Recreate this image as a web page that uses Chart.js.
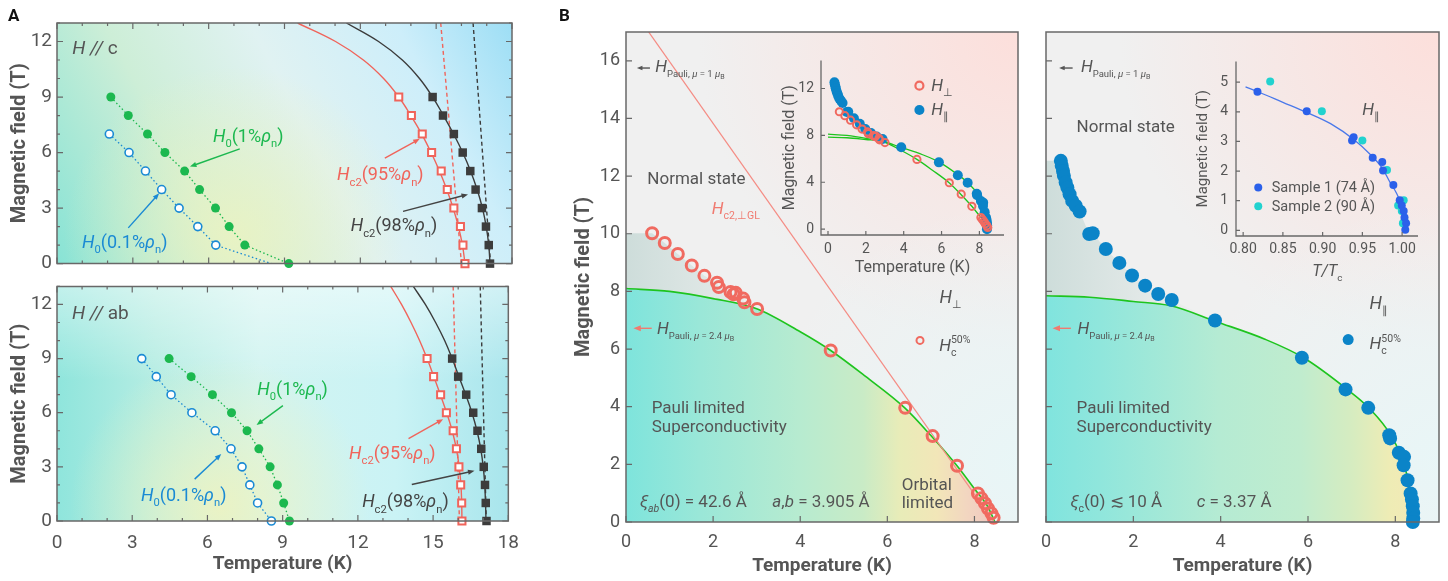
<!DOCTYPE html>
<html>
<head>
<meta charset="utf-8">
<script src="https://cdn.jsdelivr.net/npm/chart.js@4.4.1/dist/chart.umd.min.js"></script>
<style>
  body { margin: 0; background: #fff; }
  #page { position: relative; width: 1448px; height: 581px; overflow: hidden; }
  canvas { position: absolute; }
  .tag { position: absolute; font: bold 17px Roboto, sans-serif; color: #111; }
</style>
</head>
<body>
<div id="page">
  <canvas id="aTop" width="530" height="280" style="left:0;top:0"></canvas>
  <canvas id="aBot" width="530" height="311" style="left:0;top:270px"></canvas>
  <canvas id="bLeft" width="480" height="581" style="left:560px;top:0"></canvas>
  <canvas id="bRight" width="418" height="581" style="left:1030px;top:0"></canvas>
  <canvas id="inPerp" width="240" height="240" style="left:780px;top:45px"></canvas>
  <canvas id="inRatio" width="240" height="245" style="left:1193px;top:45px"></canvas>
  <div class="tag" style="left:8px;top:5px">A</div>
  <div class="tag" style="left:559px;top:5px">B</div>
</div>
<script>
// ---- panel A, H || c ----
const cGreenT = [2.13, 2.82, 3.58, 4.27, 5.05, 5.64, 6.27, 6.81, 7.43, 9.17];
const cGreenH = [9, 8, 7, 6, 5, 4, 3, 2, 1, 0];
const cBlueT = [2.07, 2.85, 3.5, 4.14, 4.83, 5.57, 6.28];
const cBlueH = [7, 6, 5, 4, 3, 2, 1];
const cBlueTrailT = [2.07, 2.85, 3.5, 4.14, 4.83, 5.57, 6.28, 8.48];
const cBlueTrailH = [7, 6, 5, 4, 3, 2, 1, 0];
const cRedT = [13.52, 14.02, 14.45, 14.82, 15.2, 15.44, 15.7, 15.96, 16.06, 16.14];
const cDarkT = [14.86, 15.27, 15.7, 16.05, 16.35, 16.56, 16.81, 16.97, 17.08, 17.13];
const cSquareH = [9, 8, 7, 6, 5, 4, 3, 2, 1, 0];
const fitH = [13, 12, 11, 10, 9, 8, 7, 6, 5, 4, 3, 2, 1, 0];
const cRedFitT = [9.52, 11.02, 12.12, 12.92, 13.52, 14.0, 14.43, 14.8, 15.13, 15.42, 15.67, 15.88, 16.04, 16.14];
const cDarkFitT = [11.45, 12.72, 13.66, 14.34, 14.86, 15.29, 15.69, 16.05, 16.36, 16.62, 16.83, 16.98, 17.08, 17.13];
const cRedLinT = [15.18, 16.0];
const cDarkLinT = [16.46, 17.15];
const linH = [13, 0];

// ---- panel A, H || ab ----
const abBlueT = [3.38, 3.96, 4.55, 5.38, 6.31, 6.94, 7.38, 7.69, 8.0, 8.55];
const abGreenT = [4.47, 5.35, 6.2, 6.96, 7.58, 8.05, 8.5, 8.79, 9.04, 9.27];
const abRedT = [14.76, 15.02, 15.3, 15.53, 15.8, 15.93, 16.03, 16.1, 16.14, 16.15];
const abDarkT = [15.76, 16.0, 16.32, 16.6, 16.77, 16.92, 17.02, 17.07, 17.1, 17.13];
const abH = [9, 8, 7, 6, 5, 4, 3, 2, 1, 0];
const abRedFitT = [13.31, 13.74, 14.12, 14.46, 14.76, 15.03, 15.29, 15.54, 15.76, 15.93, 16.04, 16.11, 16.14, 16.15];
const abDarkFitT = [14.21, 14.69, 15.1, 15.46, 15.76, 16.03, 16.3, 16.55, 16.75, 16.9, 17.0, 17.06, 17.09, 17.11];
const abRedLinT = [15.8, 16.05];
const abDarkLinT = [16.88, 17.12];

const aTempTicks = [0, 3, 6, 9, 12, 15, 18];
const aFieldTicks = [0, 3, 6, 9, 12];

// ---- panel B ----
const perpT = [0.6, 0.89, 1.19, 1.51, 1.8, 2.09, 2.13, 2.4, 2.47, 2.52, 2.69, 2.72, 3.01, 4.7, 6.41, 7.04, 7.6, 8.08, 8.16, 8.24, 8.31, 8.39, 8.44];
const perpH = [10.02, 9.68, 9.3, 8.9, 8.54, 8.3, 8.15, 7.98, 7.9, 7.95, 7.75, 7.62, 7.39, 5.95, 3.96, 2.98, 1.95, 0.99, 0.82, 0.65, 0.47, 0.3, 0.15];
const parT = [0.34, 0.36, 0.39, 0.41, 0.45, 0.49, 0.54, 0.6, 0.68, 0.77, 0.99, 1.07, 1.37, 1.68, 1.97, 2.27, 2.57, 2.88, 3.87, 5.86, 6.86, 7.38, 7.86, 7.88, 8.08, 8.2, 8.19, 8.28, 8.35, 8.38, 8.4, 8.41, 8.41, 8.4];
const parH = [12.53, 12.36, 12.18, 12.01, 11.78, 11.6, 11.37, 11.14, 10.97, 10.77, 9.99, 10.02, 9.47, 8.99, 8.55, 8.2, 7.91, 7.7, 6.99, 5.7, 4.6, 3.96, 3.01, 2.9, 2.4, 2.26, 1.97, 1.45, 0.99, 0.78, 0.55, 0.32, 0.12, 0.0];
const perpFitT = [0, 1, 2, 3, 4, 4.7, 5.5, 6.4, 7.0, 7.6, 8.0, 8.3, 8.47];
const perpFitH = [8.1, 8.0, 7.75, 7.4, 6.6, 5.95, 5.05, 3.96, 3.0, 1.95, 1.15, 0.55, 0];
const parFitT = [0, 1, 2, 2.86, 3.9, 5, 5.9, 6.9, 7.4, 7.9, 8.2, 8.35, 8.42];
const parFitH = [7.85, 7.8, 7.65, 7.5, 6.95, 6.35, 5.7, 4.6, 3.95, 3.0, 2.0, 1.0, 0];
const glT = [0.52, 8.45];
const glH = [17, 0];
const bTempTicks = [0, 2, 4, 6, 8];
const bFieldTicks = [0, 2, 4, 6, 8, 10, 12, 14, 16];
const inFieldTicks = [0, 4, 8, 12];

// ---- inset T/Tc ----
const s1X = [0.818, 0.880, 0.937, 0.939, 0.963, 0.975, 0.976, 0.989, 0.997, 0.9996, 1.002, 1.003, 1.005, 1.004];
const s1H = [4.68, 4.02, 3.03, 3.14, 2.45, 2.31, 2.02, 1.53, 1.02, 0.84, 0.65, 0.43, 0.24, 0.02];
const s2X = [0.834, 0.899, 0.950, 0.981, 1.002, 0.995, 0.9996, 1.003, 1.001];
const s2H = [5.02, 4.02, 3.03, 2.04, 1.02, 0.84, 0.65, 0.32, 0.24];
const ratioFitX = [0.803, 0.82, 0.85, 0.88, 0.91, 0.94, 0.96, 0.975, 0.985, 0.993, 0.998, 1.001, 1.003];
const ratioFitH = [4.84, 4.66, 4.32, 3.98, 3.6, 3.05, 2.56, 2.1, 1.61, 1.25, 0.9, 0.4, 0];
const ratioTicks = [0.8, 0.85, 0.9, 0.95, 1.0];
const ratioFieldTicks = [0, 1, 2, 3, 4, 5];

const FONT = 'Roboto';
const INK = '#555';
const GREEN = '#1cb84f', BLUE = '#1a8ad4', RED = '#f0645b', DARK = '#3c3c3c';
const FIT = '#1ec41e', PERP = '#f06a60', PAR = '#0b84c8', S1 = '#2b60ea', S2 = '#22d2cf';

const pts = (xs, ys) => xs.map((x, i) => ({ x, y: ys[i] }));

function dots(data, o) {
  return {
    data, showLine: false, clip: false,
    pointStyle: o.style || 'circle', pointRadius: o.r, pointHoverRadius: o.r,
    pointBorderWidth: o.bw || 0, pointBackgroundColor: o.fill, pointBorderColor: o.stroke || o.fill
  };
}

function curve(data, o) {
  return {
    data, pointRadius: 0, pointHoverRadius: 0,
    borderColor: o.color, borderWidth: o.w || 1.4, borderDash: o.dash || [],
    cubicInterpolationMode: o.smooth ? 'monotone' : 'default', tension: o.bend || 0,
    fill: o.fill || false, backgroundColor: o.bg || 'transparent'
  };
}

// horizontal gradient along temperature, for the filled regions
const sweep = (t0, t1, stops) => (c) => {
  const chart = c.chart;
  if (!chart.chartArea) return 'transparent';
  const x = chart.scales.x;
  const g = chart.ctx.createLinearGradient(x.getPixelForValue(t0), 0, x.getPixelForValue(t1), 0);
  stops.forEach(([p, col]) => g.addColorStop(p, col));
  return g;
};

function axis(min, max, values, size, o = {}) {
  return {
    type: 'linear', min, max,
    grid: { display: false, drawTicks: false },
    border: { display: false },
    afterBuildTicks: (s) => { s.ticks = values.map((value) => ({ value })); },
    afterFit: (s) => { if (s.isHorizontal()) s.height = size; else s.width = size; },
    ticks: {
      display: o.labels !== false, autoSkip: false, maxRotation: 0, padding: o.pad ?? 6,
      color: INK, font: { family: FONT, size: o.font || 18 },
      callback: o.fmt || ((v) => String(v))
    },
    title: {
      display: !!o.title, text: o.title || '', color: INK, padding: o.tpad || 0,
      font: { family: FONT, size: o.tsize || 19, weight: o.tbold === false ? 'normal' : 'bold' }
    }
  };
}

function rich(ctx, x, y, parts, size, color, subRatio = 0.62) {
  ctx.fillStyle = color;
  ctx.textBaseline = 'alphabetic';
  ctx.textAlign = 'left';
  let cx = x, subX = x, prev = '';
  parts.forEach(([t, k]) => {
    const sub = k === 's' || k === 'si', sup = k === 'p', tiny = k === 'ss';
    const fs = tiny ? size * subRatio * 0.75 : (sub || sup) ? size * subRatio : size;
    const it = k === 'i' || k === 'si';
    ctx.font = (it ? 'italic ' : '') + fs.toFixed(1) + 'px ' + FONT;
    let dy = 0;
    if (sub) dy = size * 0.3; else if (tiny) dy = size * 0.42; else if (sup) dy = -size * 0.42;
    if (sub && prev !== 's' && prev !== 'si') subX = cx;
    const px = sup ? subX : cx;
    ctx.fillText(t, px, y + dy);
    cx = Math.max(cx, px + ctx.measureText(t).width);
    prev = k;
  });
}

function arrow(ctx, x1, y1, x2, y2, color, head = 7) {
  const ang = Math.atan2(y2 - y1, x2 - x1);
  ctx.strokeStyle = color; ctx.fillStyle = color; ctx.lineWidth = 1.4;
  ctx.beginPath(); ctx.moveTo(x1, y1);
  ctx.lineTo(x2 - Math.cos(ang) * head * 0.8, y2 - Math.sin(ang) * head * 0.8); ctx.stroke();
  ctx.beginPath(); ctx.moveTo(x2, y2);
  ctx.lineTo(x2 - head * Math.cos(ang - 0.38), y2 - head * Math.sin(ang - 0.38));
  ctx.lineTo(x2 - head * Math.cos(ang + 0.38), y2 - head * Math.sin(ang + 0.38));
  ctx.closePath(); ctx.fill();
}

function notes(items) {
  return {
    id: 'notes',
    afterDraw(chart) {
      const { ctx, scales: { x, y } } = chart;
      ctx.save();
      items.forEach((it) => {
        if (it.arrow) {
          const [a, b, c, d] = it.arrow;
          arrow(ctx, x.getPixelForValue(a), y.getPixelForValue(b), x.getPixelForValue(c), y.getPixelForValue(d), it.color, it.head);
        } else if (it.marker) {
          ctx.beginPath();
          ctx.arc(x.getPixelForValue(it.x), y.getPixelForValue(it.y), it.r, 0, Math.PI * 2);
          if (it.marker === 'ring') { ctx.lineWidth = it.lw; ctx.strokeStyle = it.color; ctx.stroke(); }
          else { ctx.fillStyle = it.color; ctx.fill(); }
        } else {
          rich(ctx, x.getPixelForValue(it.x), y.getPixelForValue(it.y), it.parts, it.size || 17, it.color || INK, it.sub);
        }
      });
      ctx.restore();
    }
  };
}

function frame(o) {
  return {
    id: 'frame',
    afterDatasetsDraw(chart) {
      const { ctx, chartArea: a, scales: { x, y } } = chart;
      ctx.save();
      ctx.strokeStyle = '#686868';
      ctx.lineWidth = o.lw || 1.5;
      ctx.beginPath();
      if (o.box) ctx.rect(a.left, a.top, a.right - a.left, a.bottom - a.top);
      else { ctx.moveTo(a.left, a.top); ctx.lineTo(a.left, a.bottom); ctx.lineTo(a.right, a.bottom); }
      ctx.stroke();
      ctx.lineWidth = 1.2;
      ctx.beginPath();
      const seg = (x1, y1, x2, y2) => { ctx.moveTo(x1, y1); ctx.lineTo(x2, y2); };
      const L = o.len || 6;
      x.ticks.forEach((t) => {
        const p = x.getPixelForValue(t.value);
        seg(p, a.bottom, p, a.bottom - L);
        if (o.all) seg(p, a.top, p, a.top + L);
      });
      y.ticks.forEach((t) => {
        const p = y.getPixelForValue(t.value);
        seg(a.left, p, a.left + L, p);
        if (o.all) seg(a.right, p, a.right - L, p);
      });
      if (o.minor) {
        for (let v = Math.ceil(x.min); v <= x.max; v += o.minor) {
          const p = x.getPixelForValue(v);
          seg(p, a.bottom, p, a.bottom - L / 2); seg(p, a.top, p, a.top + L / 2);
        }
        for (let v = Math.ceil(y.min); v <= y.max; v += o.minor) {
          const p = y.getPixelForValue(v);
          seg(a.left, p, a.left + L / 2, p); seg(a.right, p, a.right - L / 2, p);
        }
      }
      ctx.stroke();
      ctx.restore();
    }
  };
}

function glowA(dir, stops, blob, haze) {
  return {
    id: 'glowA',
    beforeDraw(chart) {
      const { ctx, chartArea: a, scales: { x, y } } = chart;
      const w = a.right - a.left, h = a.bottom - a.top;
      ctx.save();
      const g = dir === 'diag'
        ? ctx.createLinearGradient(a.left, a.bottom, a.right, a.top)
        : ctx.createLinearGradient(a.left, 0, a.right, 0);
      stops.forEach(([p, c]) => g.addColorStop(p, c));
      ctx.fillStyle = g;
      ctx.fillRect(a.left, a.top, w, h);
      if (haze) {
        const v = ctx.createLinearGradient(0, a.top, 0, a.bottom);
        v.addColorStop(0, haze); v.addColorStop(0.4, 'rgba(255,255,255,0)');
        ctx.fillStyle = v; ctx.fillRect(a.left, a.top, w, h);
      }
      const bx = x.getPixelForValue(blob.x), by = y.getPixelForValue(blob.y);
      const r = ctx.createRadialGradient(bx, by, 0, bx, by, blob.r);
      r.addColorStop(0, blob.c); r.addColorStop(1, 'rgba(238,243,192,0)');
      ctx.fillStyle = r; ctx.fillRect(a.left, a.top, w, h);
      ctx.restore();
    }
  };
}

function glowB() {
  return {
    id: 'glowB',
    beforeDraw(chart) {
      const { ctx, chartArea: a } = chart;
      const w = a.right - a.left, h = a.bottom - a.top;
      ctx.save();
      ctx.fillStyle = '#f0f0f0';
      ctx.fillRect(a.left, a.top, w, h);
      let r = ctx.createRadialGradient(a.right, a.top, 0, a.right, a.top, 320);
      r.addColorStop(0, 'rgba(253,222,218,0.95)'); r.addColorStop(1, 'rgba(253,222,218,0)');
      ctx.fillStyle = r; ctx.fillRect(a.left, a.top, w, h);
      r = ctx.createRadialGradient(a.right, a.bottom - 60, 0, a.right, a.bottom - 60, 260);
      r.addColorStop(0, 'rgba(232,246,247,0.95)'); r.addColorStop(1, 'rgba(232,246,247,0)');
      ctx.fillStyle = r; ctx.fillRect(a.left, a.top, w, h);
      ctx.restore();
    }
  };
}

function options(pad, x, y) {
  return {
    responsive: false, animation: false, devicePixelRatio: 1, events: [],
    layout: { padding: pad },
    scales: { x, y },
    plugins: { legend: { display: false }, tooltip: { enabled: false } }
  };
}

const H0 = (pct) => [['H', 'i'], ['0', 's'], ['(' + pct + '%', 'n'], ['ρ', 'i'], ['n', 's'], [')', 'n']];
const Hc2 = (pct) => [['H', 'i'], ['c2', 's'], ['(' + pct + '%', 'n'], ['ρ', 'i'], ['n', 's'], [')', 'n']];
const pauli = (mu) => [['H', 'i'], ['Pauli, ', 's'], ['μ', 'si'], [' = ' + mu + ' ', 's'], ['μ', 'si'], ['B', 'ss']];

function panelA(id, d, notesList, pad, xOpts, glow) {
  return new Chart(document.getElementById(id), {
    type: 'line',
    data: {
      datasets: [
        dots(pts(d.greenT, d.greenH), { r: 4.5, fill: GREEN }),
        dots(pts(d.blueT, d.blueH), { r: 4, fill: '#fff', stroke: BLUE, bw: 1.6 }),
        dots(pts(d.redT, d.sqH), { r: 5, style: 'rect', fill: '#fff', stroke: RED, bw: 2 }),
        dots(pts(d.darkT, d.sqH), { r: 6, style: 'rect', fill: DARK }),
        curve(pts(d.greenT, d.greenH), { color: GREEN, w: 1.3, dash: [1.5, 2.5] }),
        curve(pts(d.trailT, d.trailH), { color: BLUE, w: 1.3, dash: [1.5, 2.5] }),
        curve(pts(d.redFitT, fitH), { color: RED, w: 1.4, bend: 0.4 }),
        curve(pts(d.darkFitT, fitH), { color: DARK, w: 1.4, bend: 0.4 }),
        curve(pts(d.redLinT, linH), { color: RED, w: 1.4, dash: [4, 3] }),
        curve(pts(d.darkLinT, linH), { color: DARK, w: 1.4, dash: [4, 3] })
      ]
    },
    options: options(pad,
      axis(0, 18, aTempTicks, xOpts.h, xOpts),
      axis(0, 13, aFieldTicks, 57, { font: 19, pad: 5, title: 'Magnetic field (T)', tsize: 20, tpad: 8 })),
    plugins: [glow, frame({ box: true, all: true, minor: 1, len: 6 }), notes(notesList)]
  });
}

panelA('aTop', {
  greenT: cGreenT, greenH: cGreenH, blueT: cBlueT, blueH: cBlueH, trailT: cBlueTrailT, trailH: cBlueTrailH,
  redT: cRedT, darkT: cDarkT, sqH: cSquareH, redFitT: cRedFitT, darkFitT: cDarkFitT,
  redLinT: cRedLinT, darkLinT: cDarkLinT
}, [
  { x: 0.6, y: 11.34, parts: [['H ', 'i'], ['//', 'i'], [' c', 'n']], size: 19 },
  { x: 6.17, y: 6.58, parts: H0('1'), size: 18, color: GREEN },
  { arrow: [7.23, 6.2, 5.26, 5.24], color: GREEN },
  { x: 0.99, y: 0.86, parts: H0('0.1'), size: 18, color: BLUE },
  { arrow: [2.82, 1.93, 4.04, 3.8], color: BLUE },
  { x: 11.08, y: 4.51, parts: Hc2('95'), size: 18, color: RED },
  { arrow: [12.97, 5.7, 14.35, 6.74], color: RED },
  { x: 11.62, y: 1.75, parts: Hc2('98'), size: 18, color: '#444' },
  { arrow: [13.69, 2.82, 16.26, 3.74], color: '#444' }
], { left: 0, top: 23, right: 18, bottom: 0 }, { h: 14, labels: false },
glowA('diag', [[0, '#88e3d5'], [0.3, '#cdeed7'], [0.55, '#e0f2f2'], [0.8, '#cdeefa'], [1, '#9ddef5']],
  { x: 7, y: 1.5, r: 170, c: 'rgba(236,243,192,0.85)' }));

panelA('aBot', {
  greenT: abGreenT, greenH: abH, blueT: abBlueT, blueH: abH, trailT: abBlueT, trailH: abH,
  redT: abRedT, darkT: abDarkT, sqH: abH, redFitT: abRedFitT, darkFitT: abDarkFitT,
  redLinT: abRedLinT, darkLinT: abDarkLinT
}, [
  { x: 0.6, y: 11.21, parts: [['H ', 'i'], ['//', 'i'], [' ab', 'n']], size: 19 },
  { x: 7.99, y: 7.0, parts: H0('1'), size: 18, color: GREEN },
  { arrow: [9.01, 6.39, 7.96, 5.32], color: GREEN },
  { x: 3.35, y: 1.12, parts: H0('0.1'), size: 18, color: BLUE },
  { arrow: [5.49, 2.32, 6.55, 3.71], color: BLUE },
  { x: 11.65, y: 3.45, parts: Hc2('95'), size: 18, color: RED },
  { arrow: [14.02, 4.57, 15.4, 5.64], color: RED },
  { x: 12.17, y: 0.77, parts: Hc2('98'), size: 18, color: '#444' },
  { arrow: [14.15, 2.02, 16.65, 2.78], color: '#444' }
], { left: 0, top: 8, right: 18, bottom: 0 },
{ h: 60, font: 19, pad: 11, title: 'Temperature (K)', tsize: 19, tpad: 5 },
glowA('h', [[0, '#8fe5dc'], [0.22, '#b6ede3'], [0.45, '#d2f4f1'], [0.75, '#caf3f5'], [1, '#a8e5ec']],
  { x: 6.5, y: 0.8, r: 150, c: 'rgba(238,243,192,0.9)' }, 'rgba(255,255,255,0.45)'));

// ---- panel B ----
const shadeStops = [[0, 'rgba(105,165,155,0.26)'], [0.22, 'rgba(120,175,165,0.15)'], [0.45, 'rgba(140,185,175,0)']];
const leadIn = (ts, hs) => [{ x: 0, y: hs[0] }].concat(pts(ts, hs).sort((p, q) => p.x - q.x));

new Chart(document.getElementById('bLeft'), {
  type: 'line',
  data: {
    datasets: [
      dots(pts(perpT, perpH), { r: 5.5, fill: 'rgba(0,0,0,0)', stroke: PERP, bw: 3 }),
      curve(pts(glT, glH), { color: '#f58c84', w: 1.3 }),
      curve(pts(perpFitT, perpFitH), { color: FIT, w: 1.6, smooth: true, fill: 'origin',
        bg: sweep(0, 8.5, [[0, '#7ee4dc'], [0.2, '#9ae7d8'], [0.47, '#b7ebd0'], [0.64, '#c9ebc6'], [0.74, '#e8ecb8'], [0.84, '#f2e6b8'], [0.92, '#f2d6c0'], [1, '#f0c6c0']]) }),
      curve(leadIn(perpT, perpH), { color: 'rgba(0,0,0,0)', w: 0, fill: 'origin', bg: sweep(0, 8.5, shadeStops) })
    ]
  },
  options: options({ left: 0, top: 32, right: 22, bottom: 0 },
    axis(0, 9, bTempTicks, 59, { pad: 10, title: 'Temperature (K)', tpad: 3 }),
    axis(0, 17, bFieldTicks, 66, { pad: 6, title: 'Magnetic field (T)', tsize: 20, tpad: 12 })),
  plugins: [glowB(), frame({ box: true, len: 6 }), notes([
    { arrow: [0.55, 15.75, 0.25, 15.75], color: INK, head: 6 },
    { x: 0.67, y: 15.6, parts: pauli('1'), size: 17, sub: 0.56 },
    { x: 0.49, y: 11.72, parts: [['Normal state', 'n']], size: 17 },
    { x: 1.97, y: 10.68, parts: [['H', 'i'], ['c2,⊥GL', 's']], size: 17, color: '#f07a70' },
    { x: 7.2, y: 7.6, parts: [['H', 'i'], ['⊥', 's']], size: 18 },
    { marker: 'ring', x: 6.75, y: 6.3, r: 3.5, lw: 2, color: PERP },
    { x: 7.19, y: 5.95, parts: [['H', 'i'], ['c', 's'], ['50%', 'p']], size: 17 },
    { arrow: [0.59, 6.72, 0.17, 6.72], color: '#f07a70', head: 8 },
    { x: 0.71, y: 6.53, parts: pauli('2.4'), size: 17, sub: 0.56 },
    { x: 0.59, y: 3.78, parts: [['Pauli limited', 'n']], size: 17 },
    { x: 0.59, y: 3.12, parts: [['Superconductivity', 'n']], size: 17 },
    { x: 0.32, y: 0.53, parts: [['ξ', 'i'], ['ab', 'si'], ['(0) = 42.6 Å', 'n']], size: 17 },
    { x: 3.36, y: 0.53, parts: [['a', 'i'], [',', 'n'], ['b', 'i'], [' = 3.905 Å', 'n']], size: 17 },
    { x: 6.33, y: 1.11, parts: [['Orbital', 'n']], size: 17 },
    { x: 6.33, y: 0.47, parts: [['limited', 'n']], size: 17 }
  ])]
});

new Chart(document.getElementById('bRight'), {
  type: 'line',
  data: {
    datasets: [
      dots(pts(parT, parH), { r: 7, fill: PAR }),
      curve(pts(parFitT, parFitH), { color: FIT, w: 1.6, smooth: true, fill: 'origin',
        bg: sweep(0, 8.45, [[0, '#80e4de'], [0.15, '#90e6dc'], [0.47, '#b5ebd3'], [0.69, '#c0ecce'], [0.83, '#d6ecc0'], [0.93, '#eeecb5'], [1, '#f3e9b6']]) }),
      curve(leadIn(parT, parH), { color: 'rgba(0,0,0,0)', w: 0, fill: 'origin', bg: sweep(0, 8.45, shadeStops) })
    ]
  },
  options: options({ left: 0, top: 32, right: 9, bottom: 0 },
    axis(0, 9, bTempTicks, 59, { pad: 10, title: 'Temperature (K)', tpad: 3 }),
    axis(0, 17, bFieldTicks, 16, { labels: false })),
  plugins: [glowB(), frame({ box: true, len: 6 }), notes([
    { arrow: [0.61, 15.75, 0.3, 15.75], color: INK, head: 6 },
    { x: 0.8, y: 15.6, parts: pauli('1'), size: 17, sub: 0.56 },
    { x: 0.7, y: 13.54, parts: [['Normal state', 'n']], size: 17 },
    { arrow: [0.57, 6.72, 0.15, 6.72], color: '#f07a70', head: 8 },
    { x: 0.72, y: 6.53, parts: pauli('2.4'), size: 17, sub: 0.56 },
    { x: 0.7, y: 3.78, parts: [['Pauli limited', 'n']], size: 17 },
    { x: 0.7, y: 3.12, parts: [['Superconductivity', 'n']], size: 17 },
    { x: 0.56, y: 0.53, parts: [['ξ', 'i'], ['c', 's'], ['(0) ≲ 10 Å', 'n']], size: 17 },
    { x: 3.45, y: 0.53, parts: [['c', 'i'], [' = 3.37 Å', 'n']], size: 17 },
    { x: 7.41, y: 7.4, parts: [['H', 'i'], ['∥', 's']], size: 18 },
    { marker: 'dot', x: 6.92, y: 6.33, r: 5.5, color: PAR },
    { x: 7.41, y: 6.0, parts: [['H', 'i'], ['c', 's'], ['50%', 'p']], size: 17 }
  ])]
});

// ---- insets ----
new Chart(document.getElementById('inPerp'), {
  type: 'line',
  data: {
    datasets: [
      dots(pts(perpT, perpH), { r: 3.6, fill: 'rgba(0,0,0,0)', stroke: PERP, bw: 2 }),
      dots(pts(parT, parH), { r: 5, fill: PAR }),
      curve(pts(perpFitT, perpFitH), { color: FIT, w: 1.3, smooth: true }),
      curve(pts(parFitT, parFitH), { color: FIT, w: 1.3, smooth: true })
    ]
  },
  options: options({ left: 0, top: 8, right: 16, bottom: 0 },
    axis(-0.37, 9.3, bTempTicks, 50, { font: 14, pad: 6, title: 'Temperature (K)', tsize: 16, tbold: false, tpad: 7 }),
    axis(-0.5, 14.4, inFieldTicks, 41, { font: 14, pad: 7, title: 'Magnetic field (T)', tsize: 16, tbold: false, tpad: 0 })),
  plugins: [frame({ box: false, len: 4, lw: 1.3 }), notes([
    { marker: 'ring', x: 4.83, y: 12.24, r: 4, lw: 2.2, color: PERP },
    { x: 5.45, y: 11.83, parts: [['H', 'i'], ['⊥', 's']], size: 17 },
    { marker: 'dot', x: 4.83, y: 10.16, r: 5, color: PAR },
    { x: 5.45, y: 9.78, parts: [['H', 'i'], ['∥', 's']], size: 17 }
  ])]
});

new Chart(document.getElementById('inRatio'), {
  type: 'line',
  data: {
    datasets: [
      dots(pts(s1X, s1H), { r: 4, fill: S1 }),
      dots(pts(s2X, s2H), { r: 4, fill: S2 }),
      curve(pts(ratioFitX, ratioFitH), { color: '#4a78ea', w: 1.3, smooth: true })
    ]
  },
  options: options({ left: 0, top: 8, right: 15, bottom: 0 },
    axis(0.791, 1.02, ratioTicks, 54, { font: 14, pad: 5, fmt: (v) => v.toFixed(2) }),
    axis(-0.19, 5.7, ratioFieldTicks, 43, { font: 14, pad: 8, title: 'Magnetic field (T)', tsize: 15, tbold: false, tpad: 1 })),
  plugins: [frame({ box: false, len: 4, lw: 1.3 }), notes([
    { x: 0.95, y: 3.89, parts: [['H', 'i'], ['∥', 's']], size: 17 },
    { marker: 'dot', x: 0.819, y: 1.45, r: 4, color: S1 },
    { x: 0.836, y: 1.29, parts: [['Sample 1 (74 Å)', 'n']], size: 14.5 },
    { marker: 'dot', x: 0.819, y: 0.81, r: 4, color: S2 },
    { x: 0.836, y: 0.65, parts: [['Sample 2 (90 Å)', 'n']], size: 14.5 },
    { x: 0.887, y: -1.55, parts: [['T', 'i'], ['/', 'i'], ['T', 'i'], ['c', 's']], size: 16 }
  ])]
});
</script>
</body>
</html>
